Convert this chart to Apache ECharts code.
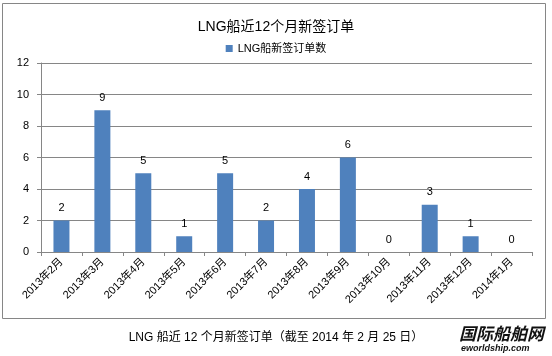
<!DOCTYPE html>
<html><head><meta charset="utf-8">
<script src="https://cdn.jsdelivr.net/npm/echarts@6/dist/echarts.min.js"></script>
<style>html,body{margin:0;padding:0;background:#fff}#c{width:552px;height:356px}</style>
</head><body><div id="c"></div>
<script>
const categories = ['2013年2月','2013年3月','2013年4月','2013年5月','2013年6月','2013年7月','2013年8月','2013年9月','2013年10月','2013年11月','2013年12月','2014年1月'];
const orders = [2,9,5,1,5,2,4,6,0,3,1,0];
const yTicks = [0,2,4,6,8,10,12];
const seriesName = 'LNG船新签订单数';
const titleText = 'LNG船近12个月新签订单';
const captionText = 'LNG 船近 12 个月新签订单（截至 2014 年 2 月 25 日）';

const chart = echarts.init(document.getElementById('c'));
const font = 'Arial, "Liberation Sans", "Noto Sans CJK SC", sans-serif';
chart.setOption({
  animation: false,
  textStyle: {fontFamily: font},
  title: {text: titleText, left: 'center', top: 15, textStyle: {fontSize: 14, fontWeight: 'normal', color: '#000', fontFamily: font}},
  legend: {data: [seriesName], top: 38, left: 'center', itemWidth: 7, itemHeight: 7, itemGap: 4, textStyle: {fontSize: 11, color: '#000'}, icon: 'rect'},
  grid: {left: 41, right: 20, top: 63, bottom: 104},
  xAxis: {
    type: 'category', data: categories,
    axisLine: {lineStyle: {color: '#868686'}},
    axisTick: {show: true, length: 4, lineStyle: {color: '#868686'}},
    axisLabel: {rotate: 45, fontSize: 11, color: '#000', margin: 8, interval: 0}
  },
  yAxis: {
    type: 'value', min: 0, max: 12, interval: 2,
    axisLine: {show: true, lineStyle: {color: '#868686'}},
    axisTick: {show: true, length: 4, lineStyle: {color: '#868686'}},
    splitLine: {lineStyle: {color: '#868686'}},
    axisLabel: {fontSize: 11, color: '#000', margin: 12}
  },
  series: [{
    name: seriesName, type: 'bar', data: orders, barWidth: 16,
    itemStyle: {color: '#4F81BD'},
    label: {show: true, position: 'top', fontSize: 11, color: '#000', distance: 7}
  }],
  graphic: [
    {type: 'rect', shape: {x: 2.5, y: 3.5, width: 543, height: 315}, style: {fill: 'none', stroke: '#868686', lineWidth: 1}, silent: true, z: -1},
    {type: 'text', left: 'center', top: 332, style: {text: captionText, fontSize: 12, fill: '#000', fontFamily: font}},
    {type: 'text', left: 459, top: 325, style: {text: '国际船舶网', fontSize: 17, fontWeight: 'bold', fontStyle: 'italic', fill: '#111', fontFamily: '"Noto Sans CJK SC"'}},
    {type: 'text', left: 461, top: 344, style: {text: 'eworldship.com', fontSize: 9, fontWeight: 'bold', fontStyle: 'italic', fill: '#111', fontFamily: font}}
  ]
});
</script></body></html>
